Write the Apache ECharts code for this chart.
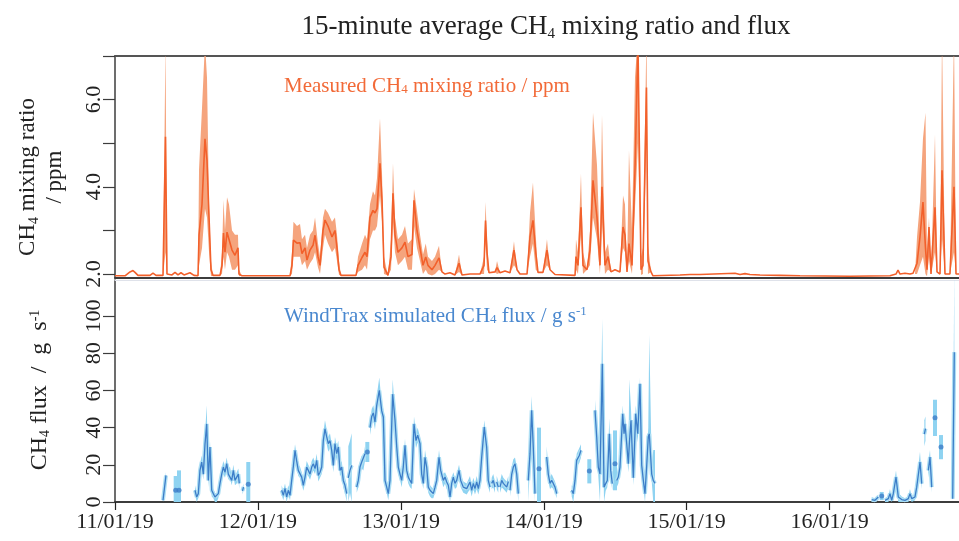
<!DOCTYPE html>
<html>
<head>
<meta charset="utf-8">
<script src="https://cdn.jsdelivr.net/npm/echarts@6/dist/echarts.min.js"></script>
<style>html,body{margin:0;padding:0;background:#fff}#c{width:959px;height:541px}</style>
</head>
<body>
<div id="c"></div>
<script>
// ---- tick labels ----
const dayLabels = ['11/01/19','12/01/19','13/01/19','14/01/19','15/01/19','16/01/19'];
const dayTicks = [0, 24, 48, 72, 96, 120];          // hours since 11/01/19 00:00
const ch4TickValues = [2, 3, 4, 5, 6, 7];
const ch4LabelValues = [2, 4, 6];
const fluxTickValues = [0, 20, 40, 60, 80, 100];

// ---- CH4 mixing ratio (ppm): time (h), mean, lower, upper ----
const ch4Time = [0,1.68,2.52,3.02,3.36,3.86,5.88,6.38,6.89,8.06,8.48,8.73,9.57,10.08,10.58,11.08,11.59,12.59,13.27,13.94,
14.11,14.61,15.11,15.45,15.79,16.12,16.46,17.63,17.97,18.22,18.47,18.81,19.14,19.65,20.15,20.65,20.82,21.33,29.39,29.72,
29.97,30.56,31.07,31.40,31.91,32.24,32.75,33.25,33.59,34.09,34.43,34.93,35.26,35.77,36.44,36.94,37.28,37.62,37.95,40.47,
40.81,41.48,41.98,42.32,42.82,43.32,43.66,44.00,44.50,44.84,45.17,45.84,46.35,46.68,47.02,47.52,48.19,48.70,49.20,49.87,
50.21,50.71,51.22,51.72,52.18,52.56,53.23,53.74,54.41,54.91,55.42,56.26,57.09,57.77,58.27,59.61,61.29,61.97,62.22,62.47,
62.80,63.81,64.15,64.65,65.49,66.33,67.00,67.51,68.01,69.19,69.69,70.19,70.65,71.03,71.87,72.54,73.05,73.89,77.25,77.41,
77.75,78.25,78.59,79.26,79.76,80.27,80.94,81.44,81.78,82.28,82.79,83.29,83.96,84.80,85.31,85.64,85.98,86.31,86.82,87.32,
87.82,88.33,88.66,89.25,89.50,90.01,90.34,94.88,96.56,98.24,104.11,104.95,105.79,106.63,108.31,111.67,115.03,123.43,130.14,131.15,
131.49,131.82,132.66,133.50,134.01,134.34,134.68,135.18,135.68,136.10,136.36,136.69,137.03,137.70,138.04,138.54,138.88,139.38,140.21,140.89,
141.23,141.73];
const ch4Mean = [1.96,1.96,2.05,2.08,2.04,1.97,1.97,2.02,1.97,1.97,5.15,2.0,1.98,2.04,1.98,2.03,1.98,2.03,1.97,1.96,
2.9,3.6,5.1,4.6,3.3,2.1,1.97,1.97,2.2,2.94,2.5,2.96,2.8,2.55,2.43,2.6,2.0,1.96,1.96,2.2,
2.78,2.71,2.72,2.47,2.6,2.32,2.55,2.66,2.89,2.4,2.2,3.0,3.24,3.1,2.85,3.0,2.6,2.1,1.97,1.97,
2.2,2.38,2.5,2.4,3.3,3.46,3.4,3.5,4.54,3.7,2.16,1.97,2.4,3.85,2.9,2.5,2.6,2.73,2.4,2.45,
3.69,3.0,2.6,2.2,2.39,2.2,2.1,2.2,2.37,2.05,2.0,2.03,1.98,2.25,1.98,2.0,2.0,2.2,3.23,2.5,
2.03,2.05,2.15,2.03,2.07,2.03,2.55,2.1,2.0,2.0,2.85,3.23,2.5,2.04,2.04,2.55,2.1,1.99,1.97,2.4,
2.2,3.53,2.2,2.1,2.55,4.15,3.3,2.2,4.0,2.2,2.4,2.05,2.1,2.05,3.08,2.9,2.05,2.7,2.2,4.38,
7.3,2.1,2.2,6.28,2.3,2.05,1.96,1.98,1.99,1.99,2.02,1.99,2.01,1.99,1.98,1.97,1.96,1.95,1.96,2.0,
2.09,2.0,2.02,2.0,2.02,2.0,2.25,2.85,3.65,2.6,2.1,3.08,2.0,3.53,2.05,2.0,4.38,2.0,2.0,4.0,
2.0,2.0];
const ch4Low = [null,null,null,null,null,null,null,null,null,null,2.5,null,null,null,null,null,null,null,null,null,
2.2,2.6,3.5,3.3,2.5,1.95,null,null,2.0,2.4,2.1,2.5,2.4,2.1,2.1,2.2,1.95,null,null,2.0,
2.4,2.4,2.4,2.2,2.3,2.1,2.25,2.35,2.5,2.15,2.0,2.6,2.9,2.7,2.5,2.6,2.3,1.98,null,null,
2.05,2.1,2.2,2.1,2.8,3.0,3.0,3.1,3.8,3.2,2.0,null,2.1,3.2,2.5,2.2,2.3,2.4,2.1,2.1,
3.1,2.6,2.3,2.0,2.1,2.0,1.97,2.0,2.1,null,null,null,null,2.05,null,null,null,2.0,2.7,2.1,
null,null,2.0,null,null,null,2.2,null,null,null,2.4,2.7,2.1,null,null,2.2,null,null,null,2.1,
2.0,2.9,2.0,null,2.2,3.3,2.8,2.0,3.2,2.0,2.1,null,null,null,2.6,2.5,null,2.3,2.0,3.5,
5.0,1.98,2.0,5.0,2.0,null,null,null,null,null,null,null,null,null,null,null,null,null,null,null,
null,null,null,null,null,null,2.0,2.2,2.4,2.0,1.95,2.4,null,2.5,null,null,2.8,null,null,2.5,
null,null];
const ch4High = [null,null,null,null,null,null,null,null,null,null,7.3,null,null,null,null,null,null,null,null,null,
4.4,5.8,7.3,6.5,3.6,2.3,null,null,2.5,3.7,3.0,3.76,3.6,3.0,2.9,2.9,2.1,null,null,2.5,
3.2,3.1,3.15,2.8,2.9,2.6,2.9,3.0,3.3,2.7,2.4,3.3,3.5,3.4,3.2,3.3,2.9,2.3,null,null,
2.4,2.7,2.9,2.8,3.6,3.9,3.8,4.2,5.57,4.3,2.4,null,2.8,4.54,3.3,2.8,2.9,3.1,2.7,2.8,
3.95,3.45,2.9,2.45,2.7,2.4,2.3,2.4,2.65,null,null,null,null,2.45,null,null,null,2.4,3.65,2.8,
null,null,2.3,null,null,null,2.75,null,null,null,3.4,4.1,2.9,null,null,2.8,null,null,null,2.8,
2.5,4.3,2.5,null,3.0,5.7,4.5,2.5,5.65,2.5,2.7,null,null,null,3.8,3.6,null,4.84,3.0,6.5,
7.5,2.4,2.6,7.5,2.7,null,null,null,null,null,null,null,null,null,null,null,null,null,null,null,
null,null,null,null,null,null,2.85,3.65,5.1,5.7,2.5,3.3,null,5.2,null,null,7.5,null,null,7.5,
null,null];

// ---- WindTrax simulated CH4 flux (g/s): time (h), mean, lower, upper; null = no data ----
const fluxTime = [8.06,8.56,9.3,10.19,10.5,10.75,12,
13.43,13.72,13.99,14.27,14.56,14.83,15.11,15.40,15.67,15.95,16.24,16.51,16.79,17.08,17.35,17.63,17.92,18.19,18.47,18.76,19.03,19.31,19.60,19.87,20.15,20.44,20.71,20.87,
21.1,21.41,21.58,22,22.38,25,
27.99,28.26,28.55,28.83,29.10,29.39,29.67,29.94,30.23,30.51,30.78,31.07,31.35,31.62,31.91,32.19,32.46,32.75,33.03,33.30,33.59,33.87,34.14,34.43,34.71,34.98,35.26,35.55,35.82,36.10,36.39,36.66,36.94,37.23,37.50,37.78,38.07,38.34,38.62,38.91,
39.05,39.18,39.46,39.75,40.2,40.59,40.86,41.14,41.43,41.70,41.98,42.2,42.37,42.6,
42.82,43.11,43.38,43.66,43.95,44.38,44.79,45.06,45.34,45.63,45.89,46.18,46.63,47.02,47.31,47.57,47.86,48.14,48.41,48.70,48.98,49.25,49.54,49.82,50.21,50.55,50.83,51.22,51.50,51.77,52.06,52.34,52.61,52.90,53.18,53.45,53.74,54.02,54.41,54.69,55.13,55.42,55.70,55.97,56.26,56.54,56.81,57.09,57.38,57.77,58.05,58.49,59.06,59.61,59.90,60.17,60.45,60.74,61.01,61.29,61.58,62.01,62.41,62.68,62.97,
63.1,63.25,63.52,63.81,63.95,64.10,64.37,64.5,64.65,64.94,65.21,65.49,65.78,66.05,66.2,66.33,66.62,66.89,67.17,67.46,67.73,68.5,
69.40,69.69,69.97,70.24,70.53,70.9,71.20,71.8,72.49,72.76,73.05,73.33,73.60,73.89,74.17,75,
76.69,76.96,77.25,77.53,77.97,78.25,79,79.65,80.2,
80.61,80.89,81.16,81.44,81.83,82.12,82.40,82.67,83.01,83.24,83.51,83.7,83.96,84.1,
84.25,84.52,84.80,85.26,85.48,85.64,85.93,86.20,86.37,86.65,87.04,87.44,87.78,88.16,88.45,88.72,89.00,89.29,89.55,89.72,90.13,90.39,90.68,100,
127.07,127.62,128.18,128.5,128.75,129,
129.30,129.86,130.14,130.43,130.70,131.15,131.54,132.11,132.66,133.22,133.50,133.79,134.34,134.63,135.18,135.47,135.7,
135.91,136.10,136.3,136.58,136.86,137.15,137.4,137.70,138,138.71,139,140.67,140.94];
const fluxMean = [0.9,14.3,null,6.3,null,6.3,null,
6.3,2.7,4.5,17,21.5,15,31,42,11.6,29.6,6.3,4.5,2.7,1.8,4.5,10,15,18.8,16,20.6,15,16,11.6,17,11.6,13.4,15,10,
null,6,8,null,9.5,null,
6.3,3.6,7.3,2.7,6.3,3.6,11.6,18.8,27.8,22,17,16,13.4,9,13.4,18.8,17,15,18.8,20.6,18,22.4,14.3,16,18.8,33,39.4,35,31.4,33,27.8,19.7,31.4,26,29.6,17,18.8,11.6,9,4.5,
null,13,17,19.7,null,8,11.6,18.8,21.5,20.6,26,null,26.9,null,
40,46,48,43,52,60,49,45.7,11.6,8,4.5,11.6,58,44,29.6,18.8,15,11.6,18.8,30.5,17,13.4,11.6,10,42,33,36,31.4,15,10,24,18.8,8,6.3,5.4,4.5,8,11.6,24,17,11.6,13.4,10.8,9,2.7,10,13.4,10,11.6,17,11.6,8,7.2,10.8,6.3,10,7.2,10.8,7.2,11.6,24.2,40.3,29.6,11.6,8,
null,10,11.6,8,null,10.8,8,null,8,11.6,10,9,8,11,null,6.3,15,18.8,20.6,15,4.5,null,
11.6,26,49.3,29.6,4.5,null,17.9,null,24.2,15,10,11.6,10,8,4.5,null,
6.3,4.5,11.6,22.4,25,27.8,null,16.7,null,
49.3,35,18.8,15,74.4,8,9.9,11.6,36.7,17,9.9,null,20.6,null,
11.6,13.4,18.8,47.5,36.7,42,31.4,20.6,31.4,44,13,47.5,36.7,63.6,19.7,11.6,4.5,19.7,35,36.7,15,11.6,10,null,
1.3,0.9,2.7,null,3.2,null,
0.9,1.8,4.5,0.9,4.5,13.4,2.7,1.3,0.9,1.8,4.5,1.8,2.7,8,21.5,9.9,null,
36.5,39.5,null,17,24.2,8,null,45.3,null,29.6,null,1.8,80.6];
const fluxLow = [0,12,null,0,null,0,null,
4,0,2,14,18,12,27,34,8,25,3,2,0,0,2,7,12,15,13,17,12,13,9,14,9,10,12,7,
null,4,6,null,0,null,
4,1,5,0,4,1,9,16,24,19,14,13,10,6,10,15,14,12,15,17,15,19,11,13,15,29,35,31,27,29,24,16,27,22,26,14,15,8,5,0,
null,0,5,0,null,5,8,15,18,17,22,null,21.5,null,
36,42,44,39,48,54,45,42,8,5,1,8,52,40,26,15,12,8,15,27,14,10,8,7,38,29,32,27,12,7,20,15,5,3,2,2,5,8,20,14,8,10,7,6,0,7,10,7,8,14,8,5,4,7,3,7,4,7,4,8,20,35,26,8,5,
null,7,8,5,null,7,5,null,5,8,7,6,5,8,null,3,11,15,17,11,0,null,
0,20,42,24,0,null,0,null,18,11,7,8,7,5,2,null,
3,0,8,19,21,24,null,10,null,
44,30,14,0,60,0,6,8,30,13,6,null,6.3,null,
8,10,15,42,32,37,27,16,25,38,9,42,32,58,15,8,0,15,30,30,11,0,0,null,
0,0,1,null,1,null,
0,0,2,0,2,8,0,0,0,0,2,0,1,5,16,7,null,
30,33,null,13,20,5,null,35.5,null,23,null,0,40];
const fluxHigh = [2,16,null,14,null,17,null,
9,5,7,20,25,18,36,52,15,33,9,7,5,4,7,13,18,22,19,24,18,19,14,20,14,16,18,13,
null,8,10,null,21.5,null,
9,6,10,5,9,6,14,22,31,25,20,19,16,12,16,22,20,18,22,24,21,26,17,19,22,37,44,39,35,37,31,23,35,30,33,20,22,15,13,9,
null,30,33,37,null,11,15,22,25,24,30,null,32.3,null,
44,50,52,47,57,67,53,50,15,11,8,15,66,48,33,22,18,15,22,34,20,16,15,13,46,37,40,35,18,13,28,22,11,9,8,7,11,15,28,20,15,16,14,12,6,13,16,13,15,20,15,11,10,14,9,13,10,14,10,15,28,44,33,15,11,
null,13,15,11,null,14,11,null,11,15,13,12,11,14,null,9,19,23,24,19,8,null,
18,32,57,35,10,null,40,null,30,19,13,15,13,11,7,null,
9,8,15,26,29,31,null,23,null,
55,40,23,22,98.6,14,14,15,45,21,14,null,38.5,null,
15,17,23,52,41,47,36,25,66,50,17,52,41,67,24,15,8,24,40,90,19,28,28,null,
2.5,2,4,null,5.4,null,
2,3,7,2,7,17,5,3,2,3,7,3,4,11,27,13,null,
44,46,null,21,28,11,null,55,null,36,null,3,125];

// ---- helpers ----
function segmentsOf(mean) {
  const segs = []; let cur = null;
  mean.forEach((v, i) => {
    if (v == null) { if (cur) { segs.push(cur); cur = null; } }
    else if (!cur) cur = [i, i]; else cur[1] = i;
  });
  if (cur) segs.push(cur);
  return segs;
}
function bandSeries(time, mean, low, high, color, xi, yi) {
  const segs = segmentsOf(mean);
  return {
    type: 'custom', xAxisIndex: xi, yAxisIndex: yi, z: 1, silent: true,
    data: segs.map((s, k) => [time[s[0]], mean[s[0]], k]),
    encode: { x: 0, y: 1 },
    renderItem: function (params, api) {
      const s = segs[api.value(2)];
      const cs = params.coordSys;
      const clip = { type: 'rect', shape: { x: cs.x, y: cs.y, width: cs.width, height: cs.height } };
      const lo = i => (low[i] == null ? mean[i] : low[i]);
      const hi = i => (high[i] == null ? mean[i] : high[i]);
      if (s[0] === s[1]) {
        const i = s[0];
        const p1 = api.coord([time[i], hi(i)]), p0 = api.coord([time[i], lo(i)]);
        return { type: 'rect', shape: { x: p1[0] - 2, y: p1[1], width: 4, height: p0[1] - p1[1] },
                 style: { fill: color }, clipPath: clip };
      }
      const pts = [];
      for (let i = s[0]; i <= s[1]; i++) pts.push(api.coord([time[i], hi(i)]));
      for (let i = s[1]; i >= s[0]; i--) pts.push(api.coord([time[i], lo(i)]));
      return { type: 'polygon', shape: { points: pts }, style: { fill: color }, clipPath: clip };
    }
  };
}
const toLine = (time, mean) => time.map((t, i) => [t, mean[i] == null ? '-' : mean[i]]);
const isolated = (time, mean) => time.map((t, i) => [t, mean[i]]).filter((p, i) =>
  mean[i] != null && (i === 0 || mean[i - 1] == null) && (i === mean.length - 1 || mean[i + 1] == null));

const FONT = 'Liberation Serif, Times New Roman, serif';
const AX = '#3c3c3c';
const ORANGE = '#F2602B', ORANGE_BAND = '#F5A47D';
const BLUE = '#3C7DC8', BLUE_BAND = '#8FD3F1', BLUE_HALO = '#AEDFF4';

const chart = echarts.init(document.getElementById('c'), null, { renderer: 'canvas' });
chart.setOption({
  animation: false,
  backgroundColor: '#fff',
  title: {
    text: '15-minute average CH{sub|4} mixing ratio and flux',
    left: 541, top: 8, textAlign: 'center',
    textStyle: { fontFamily: FONT, fontSize: 27, fontWeight: 'normal', color: '#222',
      rich: { sub: { fontFamily: FONT, fontSize: 15, color: '#222', verticalAlign: 'bottom', padding: [0, 0, -2, 0] } } }
  },
  grid: [
    { left: 115, right: 0, top: 56, height: 222 },
    { left: 115, right: 0, top: 280, height: 222 }
  ],
  xAxis: [
    { type: 'value', gridIndex: 0, min: 0, max: 141.73, position: 'bottom',
      axisLine: { show: true, lineStyle: { color: AX, width: 2 } }, axisTick: { show: false },
      axisLabel: { show: false }, splitLine: { show: false } },
    { type: 'value', gridIndex: 0, min: 0, max: 141.73, position: 'top',
      axisLine: { show: true, lineStyle: { color: '#555', width: 2 } }, axisTick: { show: false },
      axisLabel: { show: false }, splitLine: { show: false } },
    { type: 'value', gridIndex: 1, min: 0, max: 141.73, position: 'bottom',
      axisLine: { show: true, lineStyle: { color: AX, width: 2 } },
      axisTick: { show: true, length: 8, lineStyle: { color: '#222', width: 1.2 }, customValues: dayTicks },
      axisLabel: { show: true, margin: 9, fontFamily: FONT, fontSize: 22, color: '#222', customValues: dayTicks,
        formatter: v => dayLabels[dayTicks.indexOf(v)] },
      splitLine: { show: false } },
    { type: 'value', gridIndex: 1, min: 0, max: 141.73, position: 'top',
      axisLine: { show: true, lineStyle: { color: '#dfe2ea', width: 1 } }, axisTick: { show: false },
      axisLabel: { show: false }, splitLine: { show: false } }
  ],
  yAxis: [
    { type: 'value', gridIndex: 0, min: 1.91, max: 7.0,
      axisLine: { show: true, lineStyle: { color: AX, width: 1.5 } },
      axisTick: { show: true, length: 12, lineStyle: { color: AX, width: 1.2 }, customValues: ch4TickValues },
      axisLabel: { show: true, rotate: 90, margin: 10, fontFamily: FONT, fontSize: 22, color: '#222',
        customValues: ch4LabelValues, formatter: v => v.toFixed(1) },
      splitLine: { show: false } },
    { type: 'value', gridIndex: 1, min: 0, max: 119.4,
      axisLine: { show: true, lineStyle: { color: AX, width: 1.5 } },
      axisTick: { show: true, length: 12, lineStyle: { color: AX, width: 1.2 }, customValues: fluxTickValues },
      axisLabel: { show: true, rotate: 90, margin: 10, fontFamily: FONT, fontSize: 22, color: '#222',
        customValues: fluxTickValues },
      splitLine: { show: false } }
  ],
  graphic: [
    { type: 'text', x: 41, y: 177, rotation: Math.PI / 2, silent: true,
      style: { text: 'CH{sub|4} mixing ratio\n/ ppm', fontFamily: FONT, fontSize: 23, fill: '#222',
        align: 'center', verticalAlign: 'middle', lineHeight: 27,
        rich: { sub: { fontFamily: FONT, fontSize: 14, fill: '#222', verticalAlign: 'bottom', lineHeight: 27 } } } },
    { type: 'text', x: 40, y: 390, rotation: Math.PI / 2, silent: true,
      style: { text: 'CH{sub|4} flux  /  g  s{sup|-1}', fontFamily: FONT, fontSize: 24, fill: '#222',
        align: 'center', verticalAlign: 'middle',
        rich: { sub: { fontFamily: FONT, fontSize: 14, fill: '#222', verticalAlign: 'bottom' },
                sup: { fontFamily: FONT, fontSize: 14, fill: '#222', verticalAlign: 'top' } } } },
    { type: 'text', x: 284, y: 86, silent: true,
      style: { text: 'Measured CH{sub|4} mixing ratio / ppm', fontFamily: FONT, fontSize: 21, fill: '#F26A38',
        align: 'left', verticalAlign: 'middle',
        rich: { sub: { fontFamily: FONT, fontSize: 13, fill: '#F26A38', verticalAlign: 'bottom' } } } },
    { type: 'text', x: 284, y: 316, silent: true,
      style: { text: 'WindTrax simulated CH{sub|4} flux / g s{sup|-1}', fontFamily: FONT, fontSize: 21, fill: '#4A88CF',
        align: 'left', verticalAlign: 'middle',
        rich: { sub: { fontFamily: FONT, fontSize: 13, fill: '#4A88CF', verticalAlign: 'bottom' },
                sup: { fontFamily: FONT, fontSize: 13, fill: '#4A88CF', verticalAlign: 'top' } } } }
  ],
  series: [
    bandSeries(ch4Time, ch4Mean, ch4Low, ch4High, ORANGE_BAND, 0, 0),
    { type: 'line', xAxisIndex: 0, yAxisIndex: 0, z: 3, data: toLine(ch4Time, ch4Mean),
      showSymbol: false, silent: true, lineStyle: { color: ORANGE, width: 1.6 }, clip: true },
    bandSeries(fluxTime, fluxMean, fluxLow, fluxHigh, BLUE_BAND, 2, 1),
    { type: 'line', xAxisIndex: 2, yAxisIndex: 1, z: 2, data: toLine(fluxTime, fluxMean),
      showSymbol: false, silent: true, connectNulls: false, lineStyle: { color: BLUE_HALO, width: 4 }, clip: true },
    { type: 'line', xAxisIndex: 2, yAxisIndex: 1, z: 3, data: toLine(fluxTime, fluxMean),
      showSymbol: false, silent: true, connectNulls: false, lineStyle: { color: BLUE, width: 1.3 }, clip: true },
    { type: 'scatter', xAxisIndex: 2, yAxisIndex: 1, z: 4, data: isolated(fluxTime, fluxMean),
      symbolSize: 5, silent: true, itemStyle: { color: BLUE } }
  ]
});
</script>
</body>
</html>
